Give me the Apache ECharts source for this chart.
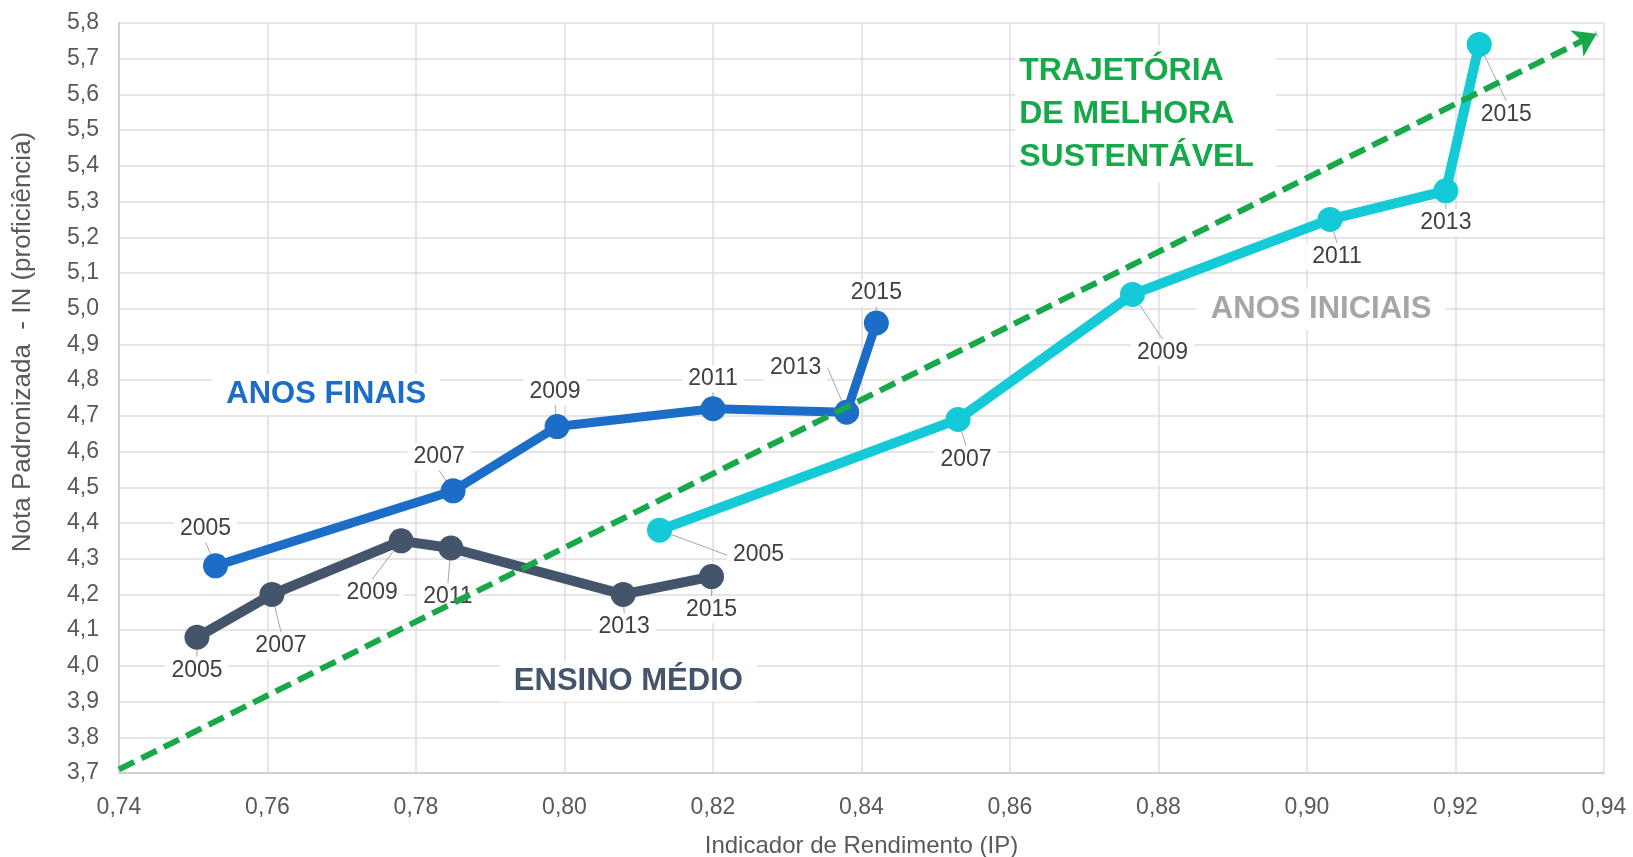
<!DOCTYPE html>
<html>
<head>
<meta charset="utf-8">
<script src="https://cdn.jsdelivr.net/npm/echarts@6/dist/echarts.min.js"></script>
<style>
  html, body { margin: 0; padding: 0; background: #fff; }
  #chart { width: 1633px; height: 857px; }
</style>
</head>
<body>
<div id="chart"></div>
<script>
// dados
var anos = ["2005", "2007", "2009", "2011", "2013", "2015"];

var finaisIP = [0.753, 0.785, 0.799, 0.820, 0.838, 0.842];
var finaisIN = [4.28, 4.49, 4.67, 4.72, 4.71, 4.96];

var medioIP = [0.7505, 0.7606, 0.778, 0.7847, 0.8079, 0.8198];
var medioIN = [4.08, 4.20, 4.35, 4.33, 4.20, 4.25];

var iniciaisIP = [0.8128, 0.853, 0.8765, 0.9031, 0.9187, 0.9232];
var iniciaisIN = [4.38, 4.69, 5.04, 5.25, 5.33, 5.74];

// trajetória de melhora (seta tracejada)
var trajIP = [0.74, 0.939];
var trajIN = [3.71, 5.77];

// textos das séries e onde ficam (coordenadas do gráfico)
var nomes = ["ANOS FINAIS", "ENSINO MÉDIO", "ANOS INICIAIS", "TRAJETÓRIA\nDE MELHORA\nSUSTENTÁVEL"];
var nomesIP = [0.7679, 0.8086, 0.9019, 0.8607];
var nomesIN = [4.76, 3.957, 4.998, 5.546];

// deslocamento dos rótulos de ano (px)
var offsets = [
  [[-10, -37], [-14, -34], [-2, -35], [0, -30], [-51, -45], [0, -30]],
  [[0, 33], [9, 51], [-29, 52], [-3, 49], [1, 32], [0, 33]],
  [[99, 25], [8, 40], [30, 58], [7, 37], [0, 32], [27, 70]]
];

var fonte = "Liberation Sans, Arial, sans-serif";

function pares(xs, ys) {
  return xs.map(function (x, i) { return [x, ys[i], anos[i]]; });
}

function serieAnos(nome, xs, ys, cor, largura, idx) {
  return {
    name: nome,
    type: "line",
    data: pares(xs, ys),
    symbol: "circle",
    symbolSize: 25,
    z: 3,
    itemStyle: { color: cor },
    lineStyle: { color: cor, width: largura },
    label: {
      show: true,
      position: "inside",
      formatter: function (p) { return p.data[2]; },
      color: "#404040",
      fontFamily: fonte,
      fontSize: 23,
      backgroundColor: "#fff",
      padding: [2, 6]
    },
    labelLine: {
      show: true,
      lineStyle: { color: "#a6a6a6", width: 1 }
    },
    labelLayout: function (p) {
      var o = offsets[idx][p.dataIndex];
      return { dx: o[0], dy: o[1] };
    }
  };
}

function rotulo(i, cor, extra) {
  var lbl = {
    show: true,
    position: "inside",
    formatter: nomes[i],
    color: cor,
    fontFamily: fonte,
    fontWeight: "bold",
    fontSize: 31,
    backgroundColor: "#fff",
    padding: [5, 14]
  };
  for (var k in extra) lbl[k] = extra[k];
  return {
    coord: [nomesIP[i], nomesIN[i]],
    symbol: "circle",
    symbolSize: 1,
    itemStyle: { color: "rgba(0,0,0,0)" },
    label: lbl
  };
}

var myChart = echarts.init(document.getElementById("chart"));

var option = {
  animation: false,
  backgroundColor: "#fff",
  grid: { left: 119, right: 29, top: 23, bottom: 84, outerBoundsMode: "none", containLabel: false },
  xAxis: {
    type: "value",
    min: 0.74,
    max: 0.94,
    interval: 0.02,
    name: "Indicador de Rendimento (IP)",
    nameLocation: "middle",
    nameGap: 61,
    nameTextStyle: { color: "#595959", fontSize: 24, fontFamily: fonte },
    axisLine: { show: true, lineStyle: { color: "#d0d0d0", width: 2 } },
    axisTick: { show: false },
    axisLabel: {
      color: "#595959",
      fontSize: 23,
      fontFamily: fonte,
      margin: 23,
      formatter: function (v) { return v.toFixed(2).replace(".", ","); }
    },
    splitLine: { lineStyle: { color: "#dedede", width: 1.5 } }
  },
  yAxis: {
    type: "value",
    min: 3.7,
    max: 5.8,
    interval: 0.1,
    name: "Nota Padronizada  - IN (proficiência)",
    nameLocation: "middle",
    nameGap: 83,
    nameTextStyle: { color: "#595959", fontSize: 26, fontFamily: fonte, padding: [0, 0, 0, 112] },
    axisLine: { show: true, lineStyle: { color: "#d0d0d0", width: 2 } },
    axisTick: { show: false },
    axisLabel: {
      color: "#595959",
      fontSize: 23,
      fontFamily: fonte,
      margin: 20,
      formatter: function (v) { return v.toFixed(1).replace(".", ","); }
    },
    splitLine: { lineStyle: { color: "#dedede", width: 1.5 } }
  },
  series: [
    {
      name: "Trajetória",
      type: "line",
      data: [],
      z: 2,
      markLine: {
        silent: true,
        symbol: ["none", "arrow"],
        symbolSize: 22,
        label: { show: false },
        lineStyle: { color: "#17a84a", width: 6, type: [17, 8] },
        data: [[
          { coord: [trajIP[0], trajIN[0]] },
          { coord: [trajIP[1], trajIN[1]] }
        ]]
      },
      markPoint: {
        silent: true,
        data: [
          rotulo(3, "#17a84a", { align: "left", lineHeight: 43, fontSize: 32, padding: [4, 22, 4, 4] })
        ]
      }
    },
    serieAnos("ANOS FINAIS", finaisIP, finaisIN, "#1b6dc8", 9, 0),
    serieAnos("ENSINO MÉDIO", medioIP, medioIN, "#44546a", 10, 1),
    serieAnos("ANOS INICIAIS", iniciaisIP, iniciaisIN, "#13cad6", 10, 2)
  ]
};

option.series[1].markPoint = { silent: true, data: [rotulo(0, "#1b6dc8", {})] };
option.series[2].markPoint = { silent: true, data: [rotulo(1, "#44546a", {})] };
option.series[3].markPoint = { silent: true, data: [rotulo(2, "#a6a6a6", {})] };

myChart.setOption(option);
</script>
</body>
</html>
